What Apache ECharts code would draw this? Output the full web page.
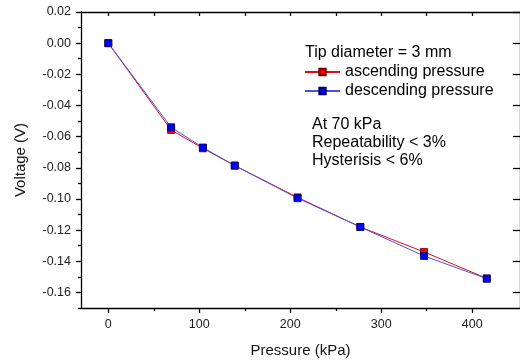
<!DOCTYPE html>
<html>
<head>
<meta charset="utf-8">
<script src="https://cdn.jsdelivr.net/npm/echarts@6/dist/echarts.min.js"></script>
<style>
  html, body { margin: 0; padding: 0; background: #fff; }
  #chart { width: 520px; height: 363px; }
</style>
</head>
<body>
<div id="chart"></div>
<script>
const pressure = [0, 69, 104, 139, 208, 277, 347, 416];
const ascending = [0, -0.0557, -0.0675, -0.0786, -0.0990, -0.1180, -0.1340, -0.1510];
const descending = [0, -0.0540, -0.0670, -0.0786, -0.0995, -0.1180, -0.1366, -0.1512];

const xMajor = [0, 100, 200, 300, 400];
const xMinor = [50, 150, 250, 350];
const xTop = [0, 50, 100, 150, 200, 250, 300, 350, 400];
const yMajor = [-0.16, -0.14, -0.12, -0.10, -0.08, -0.06, -0.04, -0.02, 0.00, 0.02];
const yMinor = [-0.17, -0.15, -0.13, -0.11, -0.09, -0.07, -0.05, -0.03, -0.01, 0.01];

const FONT = "'Liberation Sans', Arial, sans-serif";
const chart = echarts.init(document.getElementById("chart"));

const blackLine = { onZero: false, lineStyle: { color: "#000", width: 1.3 } };
const noLine = { show: false, onZero: false };
const tickStyle = { color: "#000", width: 1.3 };
const X_MIN = -30, X_MAX = 452.5;
const Y_MIN = -0.17, Y_MAX = 0.02;

const option = {
  backgroundColor: "#fff",
  animation: false,
  grid: { left: 81, right: -4.5, top: 12, bottom: 50, containLabel: false },
  legend: {
    data: ["ascending pressure", "descending pressure"],
    orient: "vertical",
    left: 299,
    top: 59,
    itemWidth: 35,
    itemHeight: 8,
    itemGap: 3,
    textStyle: { fontFamily: FONT, fontSize: 16, color: "#000" },
  },
  graphic: [
    {
      type: "text",
      left: 305,
      top: 45,
      style: { text: "Tip diameter = 3 mm", font: "16px " + FONT, fill: "#000" },
    },
    {
      type: "text",
      left: 312,
      top: 116,
      style: {
        text: "At 70 kPa\nRepeatability < 3%\nHysterisis < 6%",
        font: "16px " + FONT,
        lineHeight: 18,
        fill: "#000",
      },
    },
  ],
  xAxis: [
    {
      type: "value",
      min: X_MIN,
      max: X_MAX,
      position: "bottom",
      name: "Pressure (kPa)",
      nameLocation: "middle",
      nameGap: 35,
      nameTextStyle: { fontFamily: FONT, fontSize: 15, color: "#111" },
      axisLine: blackLine,
      axisTick: { show: true, inside: false, length: 5, customValues: xMajor, lineStyle: tickStyle },
      axisLabel: { customValues: xMajor, margin: 10, fontFamily: FONT, fontSize: 12.5, color: "#222" },
      splitLine: { show: false },
    },
    {
      type: "value",
      min: X_MIN,
      max: X_MAX,
      position: "bottom",
      axisLine: noLine,
      axisTick: { show: true, inside: false, length: 3, customValues: xMinor, lineStyle: tickStyle },
      axisLabel: { show: false },
      splitLine: { show: false },
    },
    {
      type: "value",
      min: X_MIN,
      max: X_MAX,
      position: "top",
      axisLine: blackLine,
      axisTick: { show: true, inside: true, length: 4, customValues: xTop, lineStyle: tickStyle },
      axisLabel: { show: false },
      splitLine: { show: false },
    },
  ],
  yAxis: [
    {
      type: "value",
      min: Y_MIN,
      max: Y_MAX,
      position: "left",
      name: "Voltage (V)",
      nameLocation: "middle",
      nameGap: 53,
      nameTextStyle: { fontFamily: FONT, fontSize: 15, color: "#111" },
      axisLine: blackLine,
      axisTick: { show: true, inside: false, length: 5, customValues: yMajor, lineStyle: tickStyle },
      axisLabel: {
        customValues: yMajor,
        margin: 10,
        fontFamily: FONT,
        fontSize: 12.5,
        color: "#222",
        formatter: (v) => v.toFixed(2),
      },
      splitLine: { show: false },
    },
    {
      type: "value",
      min: Y_MIN,
      max: Y_MAX,
      position: "left",
      axisLine: noLine,
      axisTick: { show: true, inside: false, length: 3, customValues: yMinor, lineStyle: tickStyle },
      axisLabel: { show: false },
      splitLine: { show: false },
    },
    {
      type: "value",
      min: Y_MIN,
      max: Y_MAX,
      position: "right",
      axisLine: blackLine,
      axisTick: { show: true, inside: true, length: 7, customValues: yMajor, lineStyle: tickStyle },
      axisLabel: { show: false },
      splitLine: { show: false },
    },
  ],
  series: [
    {
      name: "ascending pressure",
      type: "line",
      xAxisIndex: 0,
      yAxisIndex: 0,
      data: pressure.map((p, i) => [p, ascending[i]]),
      symbol: "rect",
      symbolSize: 7,
      showAllSymbol: true,
      lineStyle: { color: "#e01010", width: 1 },
      itemStyle: { color: "#ff0000", borderColor: "#700000", borderWidth: 0.8 },
      z: 2,
    },
    {
      name: "descending pressure",
      type: "line",
      xAxisIndex: 0,
      yAxisIndex: 0,
      data: pressure.map((p, i) => [p, descending[i]]),
      symbol: "rect",
      symbolSize: 7,
      showAllSymbol: true,
      lineStyle: { color: "#5050e0", width: 1 },
      itemStyle: { color: "#0000ff", borderColor: "#000060", borderWidth: 0.8 },
      z: 3,
    },
  ],
};

chart.setOption(option);
</script>
</body>
</html>
